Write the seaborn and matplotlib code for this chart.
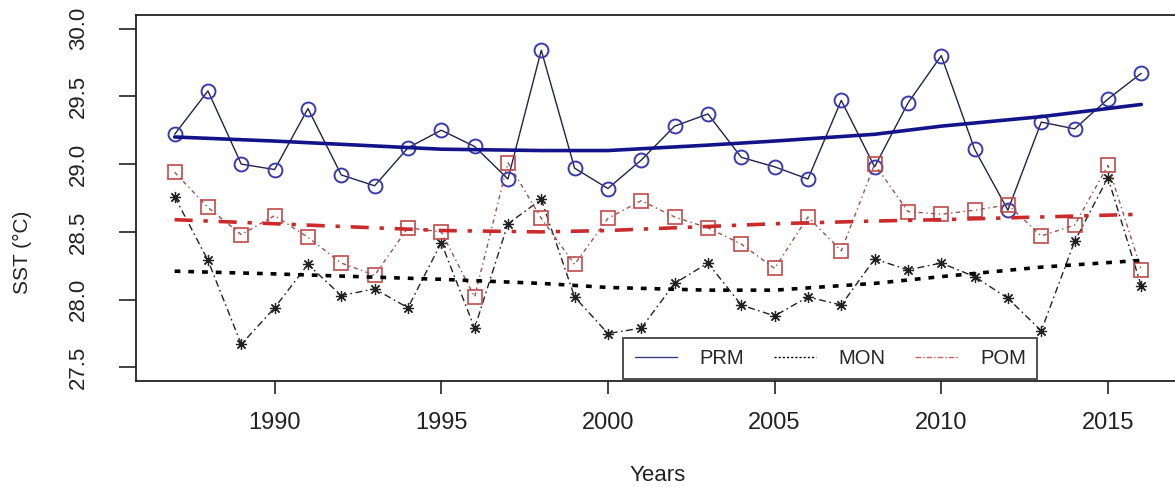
import numpy as np
import matplotlib
matplotlib.use("Agg")
import matplotlib.pyplot as plt
import seaborn as sns

# yearly SST values
years = np.arange(1987, 2017)
prm = [29.22, 29.54, 29.00, 28.96, 29.41, 28.92, 28.84, 29.12, 29.25, 29.13,
       28.89, 29.84, 28.97, 28.82, 29.03, 29.28, 29.37, 29.05, 28.98, 28.89,
       29.47, 28.98, 29.45, 29.80, 29.11, 28.66, 29.31, 29.26, 29.48, 29.67]
mon = [28.76, 28.29, 27.67, 27.94, 28.26, 28.03, 28.08, 27.94, 28.42, 27.79,
       28.56, 28.74, 28.02, 27.75, 27.79, 28.12, 28.27, 27.96, 27.88, 28.02,
       27.96, 28.30, 28.22, 28.27, 28.17, 28.01, 27.77, 28.43, 28.90, 28.10]
pom = [28.94, 28.68, 28.48, 28.62, 28.46, 28.27, 28.18, 28.53, 28.50, 28.02,
       29.01, 28.60, 28.26, 28.60, 28.73, 28.61, 28.53, 28.41, 28.23, 28.61,
       28.36, 29.00, 28.65, 28.63, 28.66, 28.70, 28.47, 28.55, 28.99, 28.22]

# smoothed trend curves
trend_years = [1987, 1990, 1995, 1998, 2000, 2003, 2005, 2008, 2010, 2013, 2016]
prm_trend = [29.20, 29.17, 29.11, 29.10, 29.10, 29.14, 29.17, 29.22, 29.28, 29.35, 29.44]
mon_trend = [28.21, 28.19, 28.15, 28.12, 28.09, 28.07, 28.07, 28.12, 28.17, 28.24, 28.29]
pom_trend = [28.59, 28.56, 28.51, 28.50, 28.51, 28.54, 28.56, 28.58, 28.59, 28.61, 28.63]

x_ticks = [1990, 1995, 2000, 2005, 2010, 2015]
y_ticks = [27.5, 28.0, 28.5, 29.0, 29.5, 30.0]

sns.set_theme(style="ticks")
plt.rcParams['font.family'] = ['Liberation Sans', 'DejaVu Sans']

fig = plt.figure(figsize=(11.75, 4.87), dpi=100)
ax = fig.add_axes([0.1157, 0.2177, 0.8885, 0.7515])

blue = "#3a3aae"
navy = "#14148a"
red = "#c04a4a"
red_trend = "#cc2a2a"

# observed series
sns.lineplot(x=years, y=prm, ax=ax, color="#22224a", lw=1.0, marker="o", ms=10,
             mfc="none", mec=blue, mew=1.4, legend=False)
sns.lineplot(x=years, y=mon, ax=ax, color="#222222", lw=1.0, marker=(8, 2, 0), ms=8,
             mec="#222222", mew=0.9, legend=False, dashes=False)
ax.lines[-1].set_dashes([5, 2.5, 1.2, 2.5])
sns.lineplot(x=years, y=pom, ax=ax, color="#9a5050", lw=1.0, marker="s", ms=10,
             mfc="none", mec=red, mew=1.2, legend=False)
ax.lines[-1].set_dashes([3, 2.5, 1, 2.5])

# trend lines
sns.lineplot(x=trend_years, y=prm_trend, ax=ax, color=navy, lw=2.6, label="PRM")
sns.lineplot(x=trend_years, y=mon_trend, ax=ax, color="black", lw=2.6, label="MON")
ax.lines[-1].set_dashes([1.6, 2.2])
sns.lineplot(x=trend_years, y=pom_trend, ax=ax, color=red_trend, lw=2.6, label="POM")
ax.lines[-1].set_dashes([5, 3, 1.2, 3])

ax.set_xlim(1985.84, 2017.16)
ax.set_ylim(27.4, 30.1)
ax.set_xticks(x_ticks)
ax.set_yticks(y_ticks)
ax.set_yticklabels([f"{v:.1f}" for v in y_ticks], rotation=90, va="center")
ax.tick_params(axis="x", length=9, width=1.2, pad=13, labelsize=17, colors="#222222")
ax.tick_params(axis="y", length=12, width=1.2, pad=22, labelsize=16, colors="#222222")
for sp in ax.spines.values():
    sp.set_color("#222222")
    sp.set_linewidth(1.3)

ax.set_xlabel("Years", fontsize=16, color="#222222", va="center")
ax.set_ylabel("SST (°C)", fontsize=15, color="#222222", va="center")
ax.xaxis.set_label_coords(0.5, -0.257)
ax.yaxis.set_label_coords(-0.109, 0.352)

# legend: thin sample lines in the box
leg = ax.legend(loc="lower left", bbox_to_anchor=(0.467, 0.005), ncol=3,
                fontsize=14.5, frameon=True, fancybox=False, handlelength=2.1,
                handletextpad=1.1, columnspacing=1.5, borderpad=0.55,
                borderaxespad=0)
leg.get_frame().set_edgecolor("#222222")
leg.get_frame().set_linewidth(1.4)
for h in leg.get_lines():
    h.set_linewidth(1.0)
leg.get_lines()[0].set_color("#3a3a8a")
leg.get_lines()[1].set_dashes([1.5, 1.5])
leg.get_lines()[2].set_color("#cc6060")
leg.get_lines()[2].set_dashes([4, 1.5, 1, 1.5])

fig.savefig("out.png", dpi=100)
